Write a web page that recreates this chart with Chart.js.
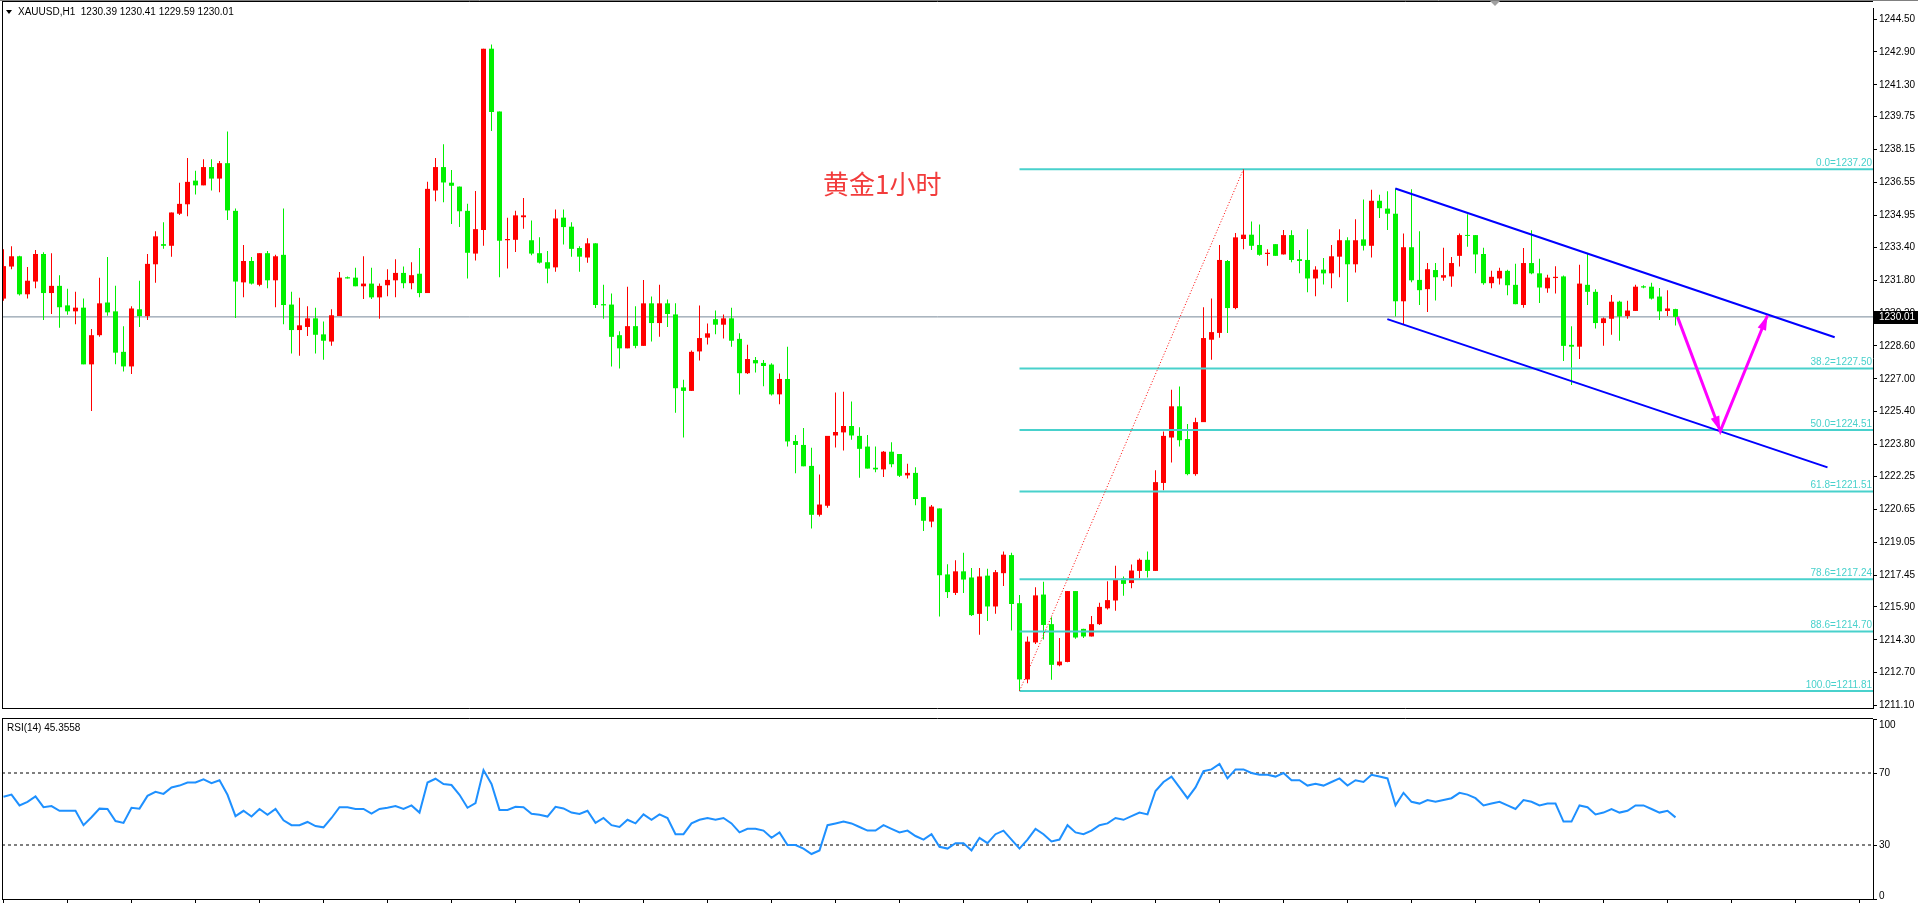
<!DOCTYPE html>
<html>
<head>
<meta charset="utf-8">
<script src="https://cdn.jsdelivr.net/npm/chart.js@4.4.1/dist/chart.umd.min.js"></script>
<style>
  html, body { margin: 0; padding: 0; background: #fff; overflow: hidden; }
  #wrap { position: relative; width: 1918px; height: 907px; }
  #main { position: absolute; left: 0; top: 0; }
  #rsi { position: absolute; left: 0; top: 711px; }
</style>
</head>
<body>
<div id="wrap">
  <canvas id="main" width="1918" height="716"></canvas>
  <canvas id="rsi" width="1918" height="196"></canvas>
</div>
<script>
// XAUUSD H1 candles, oldest first
var opens = [1230.90,1232.46,1232.96,1231.11,1231.73,1233.07,1231.17,1231.52,1230.57,1230.28,
  1230.46,1227.70,1229.12,1230.71,1230.28,1228.31,1227.60,1230.38,1230.05,1232.57,
  1233.55,1233.47,1235.03,1235.49,1236.64,1236.41,1237.30,1236.74,1237.49,1235.17,
  1231.69,1232.73,1231.57,1233.11,1231.79,1233.03,1230.61,1229.37,1229.52,1229.94,
  1229.16,1228.81,1230.05,1231.94,1231.92,1231.50,1231.63,1230.96,1231.55,1231.79,
  1232.15,1231.65,1232.11,1231.17,1236.16,1237.30,1236.54,1236.35,1235.17,1233.09,
  1234.24,1243.06,1240.00,1233.74,1233.76,1234.86,1233.74,1233.11,1232.67,1232.42,
  1234.84,1234.40,1233.36,1232.90,1233.59,1230.63,1230.61,1229.12,1228.48,1229.56,
  1228.60,1230.67,1229.71,1230.67,1230.13,1226.58,1226.41,1228.33,1229.00,1229.90,
  1229.63,1229.94,1228.94,1227.27,1227.91,1227.77,1227.69,1226.24,1226.99,1223.97,
  1223.78,1222.76,1220.38,1220.82,1224.24,1224.39,1224.70,1224.22,1223.70,1222.67,
  1222.59,1223.45,1223.34,1222.30,1222.42,1221.24,1220.05,1220.69,1217.48,1216.58,
  1217.63,1217.33,1215.56,1217.42,1215.92,1217.54,1218.42,1216.08,1212.37,1214.17,
  1216.50,1215.06,1213.06,1213.22,1216.67,1214.83,1214.46,1215.06,1215.83,1216.21,
  1217.29,1217.06,1217.65,1218.19,1217.65,1221.93,1224.14,1225.66,1224.07,1222.36,
  1224.89,1228.90,1229.23,1232.73,1230.44,1233.80,1234.01,1233.51,1233.07,1233.55,
  1233.05,1233.99,1232.82,1232.78,1231.88,1232.31,1232.13,1232.94,1233.74,1232.57,
  1233.78,1233.47,1235.66,1235.28,1235.03,1230.77,1233.40,1231.81,1231.36,1232.29,
  1231.92,1231.98,1232.98,1233.99,1233.99,1233.07,1231.65,1231.88,1232.25,1231.57,
  1230.59,1232.63,1232.13,1231.40,1231.90,1231.98,1228.65,1228.56,1231.57,1231.23,
  1229.71,1229.92,1230.75,1230.05,1230.30,1231.50,1231.48,1231.00,1230.30,1230.39];
var highs = [1233.30,1233.45,1232.98,1232.44,1233.26,1233.15,1233.11,1232.04,1231.38,1231.23,
  1230.90,1229.42,1231.92,1232.92,1231.52,1229.56,1230.53,1231.77,1233.07,1234.18,
  1234.61,1235.09,1236.54,1237.74,1237.12,1237.68,1237.68,1237.60,1239.03,1235.28,
  1233.51,1232.92,1233.11,1233.22,1233.03,1235.28,1231.23,1230.94,1230.53,1230.46,
  1229.79,1230.38,1232.19,1231.98,1232.40,1232.96,1232.40,1231.63,1232.33,1232.82,
  1232.46,1232.67,1233.36,1236.58,1237.74,1238.41,1237.16,1236.35,1235.51,1236.14,
  1243.06,1243.27,1240.00,1234.84,1235.17,1235.80,1234.70,1233.88,1233.22,1235.24,
  1235.24,1234.61,1233.45,1233.84,1233.59,1231.57,1231.15,1229.31,1231.48,1230.53,
  1231.81,1231.00,1231.57,1230.86,1230.67,1226.95,1228.37,1230.57,1229.69,1230.32,
  1230.13,1230.46,1229.21,1228.65,1228.06,1227.91,1227.75,1227.25,1228.56,1224.26,
  1224.60,1223.64,1222.34,1224.22,1226.33,1226.37,1225.89,1224.64,1224.26,1223.70,
  1223.49,1223.91,1223.34,1222.86,1222.70,1221.24,1220.86,1220.69,1217.98,1218.17,
  1218.54,1217.79,1217.79,1217.75,1217.69,1218.59,1218.54,1216.48,1214.46,1216.85,
  1217.12,1215.39,1214.39,1216.67,1216.67,1214.83,1215.46,1216.10,1217.15,1217.90,
  1217.38,1217.96,1218.25,1218.59,1222.55,1224.43,1226.47,1226.62,1224.80,1225.10,
  1230.48,1230.90,1233.51,1232.78,1234.09,1237.20,1234.65,1234.51,1233.30,1233.55,
  1234.24,1234.22,1233.26,1234.28,1232.48,1232.88,1233.51,1234.28,1233.88,1234.76,
  1235.72,1236.20,1235.95,1236.12,1236.26,1234.07,1236.22,1234.18,1232.63,1232.63,
  1233.38,1232.92,1234.07,1235.01,1233.99,1233.38,1232.25,1232.40,1232.31,1232.59,
  1233.36,1234.22,1232.84,1232.06,1232.48,1232.02,1229.56,1232.55,1233.09,1231.36,
  1229.98,1231.08,1230.79,1230.79,1231.57,1231.55,1231.67,1231.42,1231.31,1230.41];
var lows = [1230.79,1232.33,1231.05,1230.90,1231.40,1229.86,1230.15,1229.48,1230.11,1229.65,
  1227.70,1225.43,1229.04,1230.07,1227.70,1227.35,1227.23,1229.52,1229.86,1231.67,
  1233.32,1232.94,1234.97,1234.91,1235.97,1236.41,1236.16,1236.08,1234.72,1229.96,
  1230.96,1231.59,1231.50,1231.40,1230.48,1229.65,1228.23,1228.12,1229.08,1228.23,
  1227.93,1228.60,1230.05,1231.88,1231.50,1230.88,1230.88,1229.92,1231.02,1230.96,
  1231.40,1231.36,1230.96,1231.17,1235.64,1235.59,1234.53,1234.38,1231.88,1232.75,
  1233.47,1239.06,1231.94,1232.36,1233.17,1234.30,1233.01,1232.61,1231.65,1232.21,
  1233.53,1232.94,1232.21,1232.65,1230.44,1229.92,1227.60,1227.50,1228.48,1228.48,
  1228.60,1228.81,1229.04,1229.52,1225.35,1224.14,1226.41,1227.89,1228.67,1229.16,
  1228.96,1228.56,1226.24,1227.23,1227.31,1226.64,1226.18,1225.76,1223.70,1222.40,
  1222.74,1219.71,1220.30,1220.72,1223.66,1223.51,1224.03,1222.18,1222.63,1222.45,
  1222.22,1222.70,1222.22,1222.15,1220.84,1219.59,1219.78,1215.43,1216.33,1216.48,
  1216.58,1215.46,1214.54,1215.21,1215.56,1216.92,1214.75,1211.81,1212.18,1214.10,
  1214.31,1212.35,1213.01,1213.20,1214.35,1214.39,1214.46,1215.02,1215.77,1215.71,
  1216.44,1216.81,1217.29,1217.33,1217.65,1221.57,1222.93,1223.70,1222.30,1222.28,
  1224.89,1227.93,1229.00,1229.23,1230.38,1233.30,1233.26,1232.98,1232.50,1232.98,
  1233.05,1232.67,1232.13,1231.21,1231.02,1231.59,1231.40,1231.94,1230.73,1232.17,
  1233.24,1232.90,1234.82,1234.24,1230.03,1229.62,1231.69,1230.59,1230.25,1230.81,
  1231.77,1231.48,1232.46,1233.42,1232.13,1231.57,1231.40,1231.59,1231.06,1230.63,
  1230.46,1232.09,1230.69,1231.19,1231.15,1227.87,1226.70,1227.96,1230.59,1229.44,
  1228.60,1229.14,1228.85,1229.92,1230.30,1231.40,1230.86,1229.86,1230.05,1229.59];
var closes = [1232.48,1232.96,1231.11,1231.77,1233.07,1231.17,1231.52,1230.48,1230.28,1230.46,
  1227.70,1229.12,1230.67,1230.23,1228.27,1227.60,1230.42,1230.05,1232.59,1233.93,
  1233.47,1235.09,1235.51,1236.58,1236.41,1237.30,1236.74,1237.49,1235.19,1231.73,
  1232.73,1231.63,1233.11,1231.79,1232.96,1230.59,1229.37,1229.60,1229.94,1229.14,
  1228.85,1230.09,1231.92,1231.88,1231.50,1231.63,1230.96,1231.52,1231.81,1232.15,
  1231.65,1232.04,1231.17,1236.24,1237.30,1236.55,1236.39,1235.15,1233.13,1234.28,
  1243.06,1239.98,1233.71,1233.80,1234.95,1234.95,1233.09,1232.65,1232.36,1234.80,
  1234.38,1233.32,1232.94,1233.59,1230.59,1230.57,1229.04,1228.48,1229.56,1228.60,
  1230.67,1229.71,1230.67,1230.15,1226.54,1226.41,1228.31,1228.98,1229.21,1229.63,
  1229.94,1228.85,1227.27,1227.96,1227.75,1227.62,1226.24,1226.99,1223.95,1223.78,
  1222.74,1220.38,1220.88,1224.22,1224.41,1224.70,1224.24,1223.59,1222.63,1222.59,
  1223.45,1222.84,1222.28,1222.42,1221.15,1220.09,1220.78,1217.44,1216.62,1217.63,
  1217.23,1215.50,1217.38,1215.92,1217.59,1218.44,1216.04,1212.37,1214.21,1216.46,
  1215.02,1213.08,1213.24,1216.67,1214.41,1214.46,1215.06,1215.90,1216.23,1217.25,
  1217.02,1217.67,1218.19,1217.65,1221.97,1224.22,1225.66,1224.01,1222.36,1224.89,
  1228.98,1229.27,1232.78,1230.44,1233.88,1234.01,1233.47,1233.03,1233.13,1232.98,
  1233.99,1232.78,1232.73,1231.88,1232.31,1232.13,1232.96,1233.74,1232.57,1233.74,
  1233.47,1235.66,1235.30,1235.03,1230.77,1233.40,1231.79,1231.31,1232.33,1231.94,
  1232.04,1232.63,1233.99,1233.95,1233.05,1231.65,1231.96,1232.25,1231.55,1230.63,
  1232.63,1232.13,1231.44,1231.92,1231.96,1228.60,1228.56,1231.63,1231.23,1229.71,
  1229.94,1230.75,1230.03,1230.32,1231.48,1231.44,1230.90,1230.28,1230.42,1230.01];

// RSI(14), one value per candle
var rsi14 = [56.8,58.0,52.0,54.0,57.0,51.0,51.6,49.0,49.0,49.0,
  41.0,45.4,50.2,50.0,43.3,42.3,50.7,50.2,57.3,59.5,
  58.4,62.0,63.0,64.7,64.7,66.5,64.4,66.0,57.9,46.0,
  49.0,45.8,50.0,46.8,50.0,43.7,41.0,41.0,42.8,40.5,
  39.8,45.0,51.0,51.0,50.0,50.0,47.4,50.0,50.7,51.6,
  50.0,52.0,48.0,64.7,66.8,63.9,63.3,57.9,50.7,53.3,
  71.6,63.9,49.5,49.5,51.2,51.0,47.4,46.8,45.8,51.2,
  50.3,48.0,47.2,49.0,42.3,45.0,41.0,40.0,44.0,42.0,
  47.0,44.0,47.0,45.0,36.0,36.0,42.0,44.0,45.0,44.0,
  45.0,42.0,37.0,39.0,39.0,38.0,34.0,37.0,30.0,30.0,
  28.0,25.0,27.0,41.0,42.0,43.0,42.0,40.0,38.0,38.0,
  41.0,39.0,37.0,38.0,35.0,33.0,36.0,29.0,28.0,31.0,
  31.0,27.0,34.0,31.0,36.0,38.0,33.0,28.0,33.0,39.0,
  36.0,32.0,33.0,41.0,37.0,36.0,38.0,41.0,42.0,45.0,
  44.0,46.0,48.0,47.0,60.0,65.0,68.0,62.0,56.0,62.0,
  71.0,72.0,75.0,67.0,72.0,72.0,70.0,69.0,69.0,68.0,
  70.0,66.0,66.0,63.0,64.0,63.0,65.0,67.0,63.0,66.0,
  65.0,69.0,68.0,67.0,52.0,59.0,54.0,53.0,55.0,54.0,
  55.0,56.0,59.0,58.0,56.0,52.0,53.0,54.0,52.0,50.0,
  55.0,54.0,52.0,53.0,53.0,43.0,43.0,52.0,51.0,47.0,
  48.0,50.0,48.0,49.0,52.0,52.0,50.0,48.0,49.0,45.36];

var priceTicks = [1244.50,1242.90,1241.30,1239.75,1238.15,1236.55,1234.95,1233.40,1231.80,1230.20,
  1228.60,1227.00,1225.40,1223.80,1222.25,1220.65,1219.05,1217.45,1215.90,1214.30,1212.70,1211.10];
var rsiTicks = [100, 70, 30, 0];
var rsiLevels = [70, 30];

// fibonacci retracement drawn from the swing low candle to the swing high candle
var fibLevels = [0.0, 38.2, 50.0, 61.8, 78.6, 88.6, 100.0];
var fibPrices = [1237.20, 1227.50, 1224.51, 1221.51, 1217.24, 1214.70, 1211.81];
var fibLowIdx = 127, fibHighIdx = 155;

// channel and projection, as [candle index, price]
var upperChannel = [[173.98, 1236.26], [228.9, 1229.02]];
var lowerChannel = [[172.98, 1229.90], [228.0, 1222.69]];
var arrowPath = [[209.25, 1230.01], [214.6, 1224.45], [220.5, 1230.09]];

var symbolText = 'XAUUSD,H1  1230.39 1230.41 1229.59 1230.01';
var rsiText = 'RSI(14) 45.3558';
var noteText = '黄金1小时';

var X_MIN = -0.1875, X_MAX = 233.6875;
var UP = '#ff0000', DOWN = '#00f000', FIB = '#48d1cc';
var FONT = '"Liberation Sans", Arial, sans-serif';

Chart.defaults.font.family = FONT;
Chart.defaults.font.size = 10;
Chart.defaults.color = '#000';

var lastClose = closes[closes.length - 1];
var candleColors = closes.map(function(c, i) { return c >= opens[i] ? UP : DOWN; });
var bodyData = closes.map(function(c, i) { return { x: i, y: [opens[i], c] }; });
var wickData = closes.map(function(c, i) { return { x: i, y: [lows[i], highs[i]] }; });

function pts(list) { return list.map(function(p) { return { x: p[0], y: p[1] }; }); }
function lineSet(data, color, width, order, dash) {
  return { type: 'line', data: data, borderColor: color, borderWidth: width, borderDash: dash || [],
    pointRadius: 0, fill: false, tension: 0, order: order };
}

var datasets = [
  lineSet([{ x: X_MIN, y: lastClose }, { x: X_MAX, y: lastClose }], '#778899', 1, 10),
  { type: 'bar', data: wickData, backgroundColor: candleColors, barThickness: 1, grouped: false,
    inflateAmount: 0, borderWidth: 0, order: 7 },
  { type: 'bar', data: bodyData, backgroundColor: candleColors, barThickness: 5, grouped: false,
    minBarLength: 1, inflateAmount: 0, borderWidth: 0, order: 6 }
];
fibPrices.forEach(function(p) {
  datasets.push(lineSet([{ x: fibLowIdx, y: p }, { x: X_MAX, y: p }], FIB, 2, 5));
});
datasets.push(lineSet([{ x: fibLowIdx, y: lows[fibLowIdx] }, { x: fibHighIdx, y: highs[fibHighIdx] }], '#ff0000', 1, 4, [1, 2]));
datasets.push(lineSet(pts(upperChannel), '#0000ff', 2, 3));
datasets.push(lineSet(pts(lowerChannel), '#0000ff', 2, 3));
datasets.push(lineSet(pts(arrowPath), '#ff00ff', 3, 2));

function arrowHead(ctx, x0, y0, x1, y1) {
  var a = Math.atan2(y1 - y0, x1 - x0), len = 15, w = 4.5;
  ctx.beginPath();
  ctx.moveTo(x1, y1);
  ctx.lineTo(x1 - len * Math.cos(a) + w * Math.sin(a), y1 - len * Math.sin(a) - w * Math.cos(a));
  ctx.lineTo(x1 - len * Math.cos(a) - w * Math.sin(a), y1 - len * Math.sin(a) + w * Math.cos(a));
  ctx.closePath();
  ctx.fill();
}

var mainDecor = {
  id: 'mainDecor',
  afterDatasetsDraw: function(chart) {
    var ctx = chart.ctx, a = chart.chartArea, x = chart.scales.x, y = chart.scales.y;
    ctx.save();
    // fib level captions
    ctx.font = '10px ' + FONT;
    ctx.fillStyle = FIB;
    ctx.textAlign = 'right';
    ctx.textBaseline = 'bottom';
    fibLevels.forEach(function(lv, k) {
      ctx.fillText(lv.toFixed(1) + '=' + fibPrices[k].toFixed(2), a.right - 1, y.getPixelForValue(fibPrices[k]) - 1);
    });
    // arrow heads
    ctx.fillStyle = '#ff00ff';
    for (var k = 1; k < arrowPath.length; k++) {
      arrowHead(ctx, x.getPixelForValue(arrowPath[k - 1][0]), y.getPixelForValue(arrowPath[k - 1][1]),
        x.getPixelForValue(arrowPath[k][0]), y.getPixelForValue(arrowPath[k][1]));
    }
    // note
    ctx.font = '26px "Noto Sans CJK SC", sans-serif';
    ctx.fillStyle = '#f23c3c';
    ctx.textAlign = 'left';
    ctx.textBaseline = 'middle';
    ctx.fillText(noteText, 823, 184);
    ctx.restore();
  },
  afterDraw: function(chart) {
    var ctx = chart.ctx, a = chart.chartArea, x = chart.scales.x, y = chart.scales.y;
    ctx.save();
    // frame
    ctx.strokeStyle = '#808080';
    ctx.lineWidth = 1;
    ctx.beginPath(); ctx.moveTo(0, 0.5); ctx.lineTo(chart.width, 0.5); ctx.stroke();
    ctx.strokeStyle = '#000';
    ctx.beginPath();
    ctx.moveTo(a.left + 0.5, 1); ctx.lineTo(a.left + 0.5, a.bottom + 1);
    ctx.moveTo(a.left, a.bottom + 0.5); ctx.lineTo(a.right, a.bottom + 0.5);
    ctx.moveTo(a.left, 1.5); ctx.lineTo(a.right, 1.5);
    ctx.stroke();
    // chart shift marker
    var sx = x.getPixelForValue(186.44);
    ctx.fillStyle = '#a0a0a0';
    ctx.beginPath(); ctx.moveTo(sx - 5, 1); ctx.lineTo(sx + 5, 1); ctx.lineTo(sx, 6); ctx.closePath(); ctx.fill();
    // symbol line
    ctx.fillStyle = '#000';
    ctx.beginPath(); ctx.moveTo(6, 10); ctx.lineTo(12, 10); ctx.lineTo(9, 14); ctx.closePath(); ctx.fill();
    ctx.font = '10px ' + FONT;
    ctx.textBaseline = 'middle';
    ctx.textAlign = 'left';
    ctx.fillText(symbolText, 18, 12.5);
    // last price box
    var py = y.getPixelForValue(lastClose);
    ctx.fillStyle = '#000';
    ctx.fillRect(a.right + 1, Math.round(py) - 6, chart.width - a.right - 1, 13);
    ctx.fillStyle = '#fff';
    ctx.fillText(lastClose.toFixed(2), a.right + 6, py + 0.5);
    ctx.restore();
  }
};

new Chart(document.getElementById('main'), {
  type: 'bar',
  data: { datasets: datasets },
  options: {
    responsive: false, animation: false, devicePixelRatio: 1,
    layout: { padding: { left: 2, top: 2, right: 0, bottom: 6 } },
    plugins: { legend: { display: false }, tooltip: { enabled: false } },
    scales: {
      x: { type: 'linear', min: X_MIN, max: X_MAX, offset: false, display: false },
      y: {
        position: 'right', min: 1210.98, max: 1245.04,
        afterFit: function(s) { s.width = 45; },
        afterBuildTicks: function(s) { s.ticks = priceTicks.map(function(v) { return { value: v }; }); },
        ticks: { autoSkip: false, padding: 2, color: '#000', font: { size: 10 },
          callback: function(v) { return Number(v).toFixed(2); } },
        grid: { drawOnChartArea: false, drawTicks: true, tickLength: 4, color: '#000' },
        border: { display: true, color: '#000' }
      }
    }
  },
  plugins: [mainDecor]
});

var rsiDecor = {
  id: 'rsiDecor',
  afterDraw: function(chart) {
    var ctx = chart.ctx, a = chart.chartArea, y = chart.scales.y;
    ctx.save();
    ctx.strokeStyle = '#000';
    ctx.lineWidth = 1;
    ctx.beginPath();
    ctx.moveTo(a.left, a.top - 0.5); ctx.lineTo(a.right, a.top - 0.5);
    ctx.moveTo(a.left + 0.5, a.top - 1); ctx.lineTo(a.left + 0.5, a.bottom);
    ctx.stroke();
    ctx.fillStyle = '#000';
    ctx.font = '10px ' + FONT;
    ctx.textBaseline = 'middle';
    ctx.textAlign = 'left';
    ctx.fillText(rsiText, 7, a.top + 9);
    ctx.fillText(String(rsiTicks[0]), a.right + 6, y.getPixelForValue(rsiTicks[0]) + 6);
    ctx.fillText(String(rsiTicks[3]), a.right + 6, y.getPixelForValue(rsiTicks[3]) - 3);
    ctx.restore();
  }
};

var rsiSets = [
  { data: rsi14.map(function(v, i) { return { x: i, y: v }; }), borderColor: '#1e90ff', borderWidth: 2,
    pointRadius: 0, fill: false, tension: 0, order: 1 }
];
rsiLevels.forEach(function(v) {
  rsiSets.push({ data: [{ x: X_MIN, y: v }, { x: X_MAX, y: v }], borderColor: '#000', borderWidth: 1,
    borderDash: [3, 3], pointRadius: 0, fill: false, order: 2 });
});

new Chart(document.getElementById('rsi'), {
  type: 'line',
  data: { datasets: rsiSets },
  options: {
    responsive: false, animation: false, devicePixelRatio: 1,
    layout: { padding: { left: 2, top: 2, right: 0, bottom: 0 } },
    plugins: { legend: { display: false }, tooltip: { enabled: false } },
    scales: {
      x: {
        type: 'linear', min: X_MIN, max: X_MAX, offset: false, position: 'bottom',
        afterFit: function(s) { s.height = 5; },
        afterBuildTicks: function(s) {
          var t = [];
          for (var i = 0; i <= X_MAX; i += 8) t.push({ value: i });
          s.ticks = t;
        },
        ticks: { display: false },
        grid: { drawOnChartArea: false, drawTicks: true, tickLength: 4, color: '#000' },
        border: { display: true, color: '#000' }
      },
      y: {
        position: 'right', min: 0, max: 100,
        afterFit: function(s) { s.width = 45; },
        afterBuildTicks: function(s) { s.ticks = rsiTicks.map(function(v) { return { value: v }; }); },
        ticks: { autoSkip: false, padding: 2, color: '#000', font: { size: 10 },
          callback: function(v) { return rsiLevels.indexOf(v) >= 0 ? String(v) : ''; } },
        grid: { drawOnChartArea: false, drawTicks: true, tickLength: 4, color: '#000' },
        border: { display: true, color: '#000' }
      }
    }
  },
  plugins: [rsiDecor]
});
</script>
</body>
</html>
